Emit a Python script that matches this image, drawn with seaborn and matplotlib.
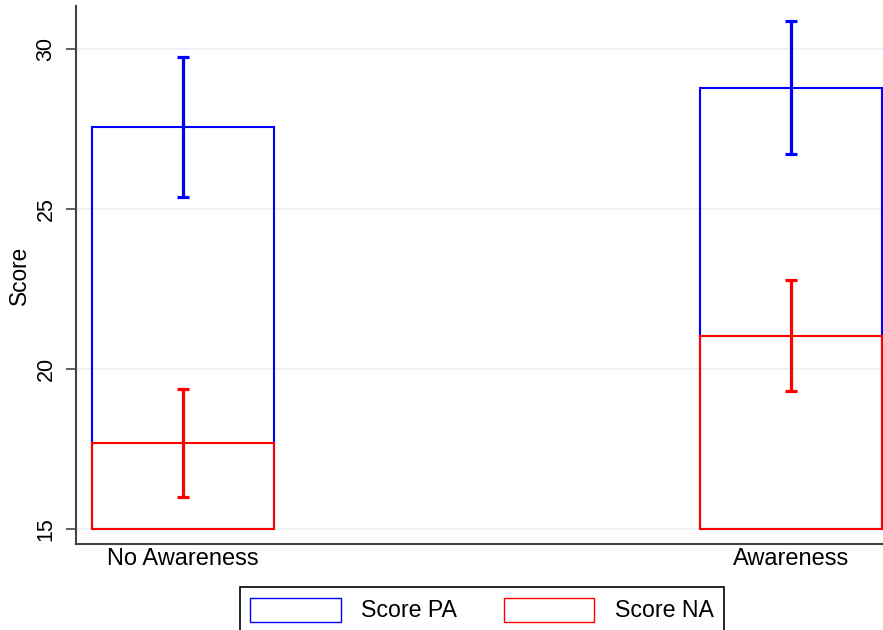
import matplotlib
matplotlib.use("Agg")
import matplotlib.pyplot as plt
from matplotlib.patches import Patch
import pandas as pd
import seaborn as sns

# Group means and half-widths of the error bars
groups = ["No Awareness", "Awareness"]
measures = ["Score PA", "Score NA"]
pa_mean = [27.56, 28.78]
pa_err = [2.19, 2.08]
na_mean = [17.69, 21.03]
na_err = [1.68, 1.73]
yticks = [15, 20, 25, 30]
base = 15

colors = {"Score PA": "#0000ff", "Score NA": "#ff0000"}

df = pd.DataFrame({
    "Group": groups * 2,
    "Measure": [measures[0]] * len(groups) + [measures[1]] * len(groups),
    "Score": pa_mean + na_mean,
})

sns.set_style("white")
plt.rcParams["font.family"] = ["Liberation Sans", "DejaVu Sans"]
plt.rcParams["text.color"] = "black"
plt.rcParams["axes.labelcolor"] = "black"
plt.rcParams["xtick.color"] = "black"
plt.rcParams["ytick.color"] = "black"

fig = plt.figure(figsize=(8.83, 6.30), dpi=100)
ax = fig.add_axes([76 / 883, 1 - 544 / 630, (883 - 76) / 883, (544 - 6) / 630])

sns.barplot(
    data=df, x="Group", y="Score", hue="Measure",
    order=groups, hue_order=measures, palette=colors,
    dodge=False, fill=False, width=0.3, errorbar=None,
    linewidth=1.5, legend=False, ax=ax,
)

# bars rise from the base value rather than from zero
for p in ax.patches:
    top = p.get_y() + p.get_height()
    p.set_y(base)
    p.set_height(top - base)

# error bars for each measure
xpos = list(range(len(groups)))
for means, errs, m in [(pa_mean, pa_err, measures[0]), (na_mean, na_err, measures[1])]:
    ax.errorbar(xpos, means, yerr=errs, fmt="none", ecolor=colors[m],
                elinewidth=2.3, capsize=4, capthick=2.3, zorder=4)

ax.set_xlim(-0.1756, 1.1517)
ax.set_ylim(14.53, 31.33)
ax.set_yticks(yticks)
ax.set_yticklabels([str(t) for t in yticks])

ax.set_axisbelow(True)
ax.yaxis.grid(True, color="#eaf2f3", linewidth=1.3)
ax.xaxis.grid(False)

for side in ["top", "right"]:
    ax.spines[side].set_visible(False)
for side in ["left", "bottom"]:
    ax.spines[side].set_color("#444444")
    ax.spines[side].set_linewidth(1.5)

ax.tick_params(axis="y", length=7, width=1.2, color="#444444", labelcolor="black",
               pad=7, labelsize=15.5, labelrotation=90, left=True)
for lab in ax.get_yticklabels():
    lab.set_va("center")
ax.tick_params(axis="x", length=0, pad=3, labelsize=17, labelcolor="black")

ax.set_xlabel("")
ax.set_ylabel("Score", fontsize=16.3, labelpad=3, color="black")

handles = [Patch(facecolor="none", edgecolor=colors[m], linewidth=1.0) for m in measures]
leg = fig.legend(
    handles, measures, loc="upper center",
    bbox_to_anchor=(482 / 883, 1 - 587.3 / 630), bbox_transform=fig.transFigure,
    ncol=2, fontsize=16.7, frameon=True, fancybox=False, edgecolor="black",
    framealpha=1, borderpad=0.45, borderaxespad=0,
    handlelength=3.9, handleheight=1.2, handletextpad=0.9, columnspacing=2.0,
)
leg.get_frame().set_linewidth(1.2)
for t in leg.get_texts():
    t.set_color("black")

fig.savefig("out.png", dpi=100)
